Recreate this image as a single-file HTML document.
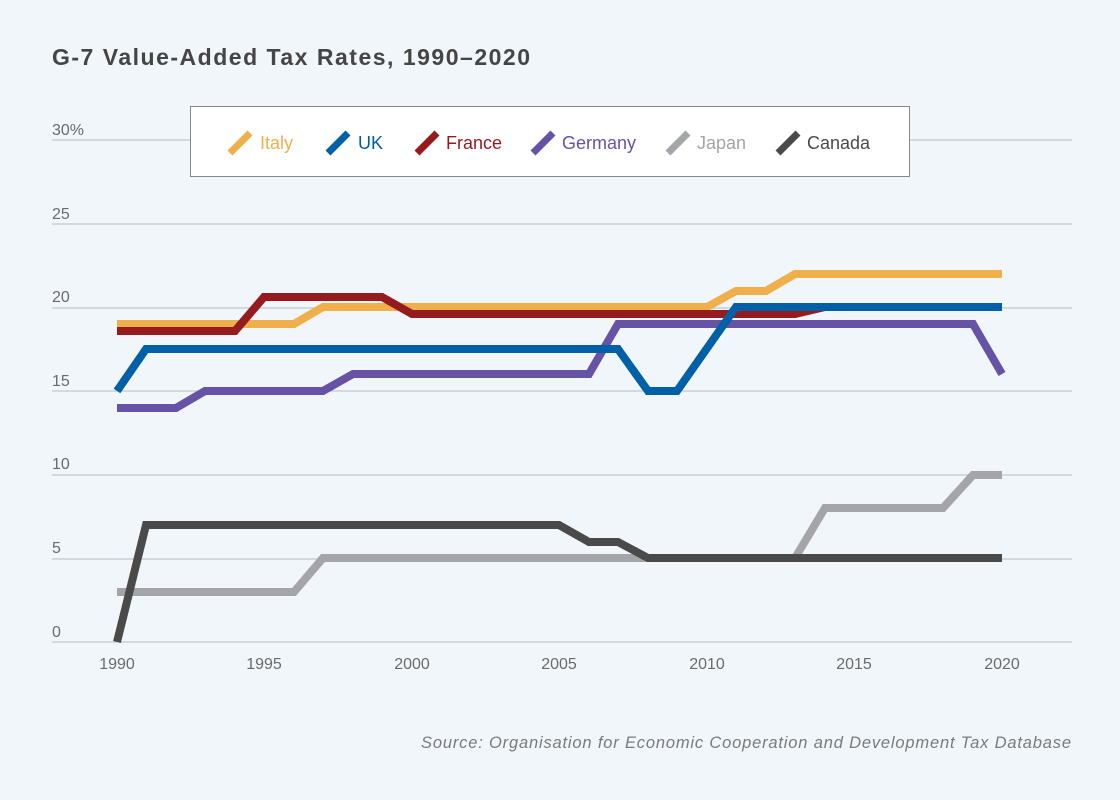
<!DOCTYPE html><html><head><style>body{margin:0;background:#f1f6fa;}svg{display:block}</style></head><body>
<svg width="1120" height="800" xmlns="http://www.w3.org/2000/svg" font-family="Liberation Sans, sans-serif">
<rect width="1120" height="800" fill="#f1f6fa"/>
<text x="52" y="65" font-size="23" font-weight="bold" fill="#454545" textLength="478" lengthAdjust="spacing">G-7 Value-Added Tax Rates, 1990–2020</text>
<g stroke="#c4c8cc" stroke-width="1.2">
<line x1="52" x2="1072" y1="642" y2="642"/><line x1="52" x2="1072" y1="559" y2="559"/><line x1="52" x2="1072" y1="475" y2="475"/><line x1="52" x2="1072" y1="391" y2="391"/><line x1="52" x2="1072" y1="308" y2="308"/><line x1="52" x2="1072" y1="224" y2="224"/><line x1="52" x2="1072" y1="140" y2="140"/>
</g>
<g font-size="16" fill="#6b6b6b">
<text x="52" y="637">0</text><text x="52" y="553">5</text><text x="52" y="469">10</text><text x="52" y="386">15</text><text x="52" y="302">20</text><text x="52" y="219">25</text><text x="52" y="135">30%</text>
</g>
<g font-size="16" fill="#6b6b6b" text-anchor="middle">
<text x="117" y="669">1990</text><text x="264" y="669">1995</text><text x="412" y="669">2000</text><text x="559" y="669">2005</text><text x="707" y="669">2010</text><text x="854" y="669">2015</text><text x="1002" y="669">2020</text>
</g>
<g fill="none" stroke-width="8" stroke-linejoin="miter">
<polyline stroke="#a3a5a8" points="117,592 294,592 323,558 795,558 825,508 943,508 973,475 1002,475"/>
<polyline stroke="#4a4a4a" points="117,642 146,525 559,525 589,542 618,542 648,558 1002,558"/>
<polyline stroke="#efb04b" points="117,324 294,324 323,307 707,307 736,291 766,291 795,274 1002,274"/>
<polyline stroke="#951b1e" points="117,331 235,331 264,297 382,297 412,314 795,314 825,307 1002,307"/>
<polyline stroke="#6653a5" points="117,408 176,408 205,391 323,391 353,374 589,374 618,324 973,324 1002,374"/>
<polyline stroke="#0060a7" points="117,391 146,349 618,349 648,391 677,391 736,307 1002,307"/>
</g>
<rect x="190.5" y="106.5" width="719" height="70" fill="#fff" stroke="#888" stroke-width="1"/>
<g stroke-width="7" fill="none">
<line x1="230" y1="153" x2="250" y2="133" stroke="#efb04b"/>
<line x1="328" y1="153" x2="348" y2="133" stroke="#0060a7"/>
<line x1="417" y1="153" x2="437" y2="133" stroke="#951b1e"/>
<line x1="533" y1="153" x2="553" y2="133" stroke="#6653a5"/>
<line x1="668" y1="153" x2="688" y2="133" stroke="#a3a5a8"/>
<line x1="778" y1="153" x2="798" y2="133" stroke="#4a4a4a"/>
</g>
<g font-size="18">
<text x="260" y="149" fill="#efb04b">Italy</text>
<text x="358" y="149" fill="#0060a7">UK</text>
<text x="446" y="149" fill="#951b1e">France</text>
<text x="562" y="149" fill="#6653a5">Germany</text>
<text x="697" y="149" fill="#a3a5a8">Japan</text>
<text x="807" y="149" fill="#4a4a4a">Canada</text>
</g>
<text x="421" y="748" font-size="16.5" font-style="italic" fill="#7a7a7a" textLength="650" lengthAdjust="spacing">Source: Organisation for Economic Cooperation and Development Tax Database</text>
</svg></body></html>
